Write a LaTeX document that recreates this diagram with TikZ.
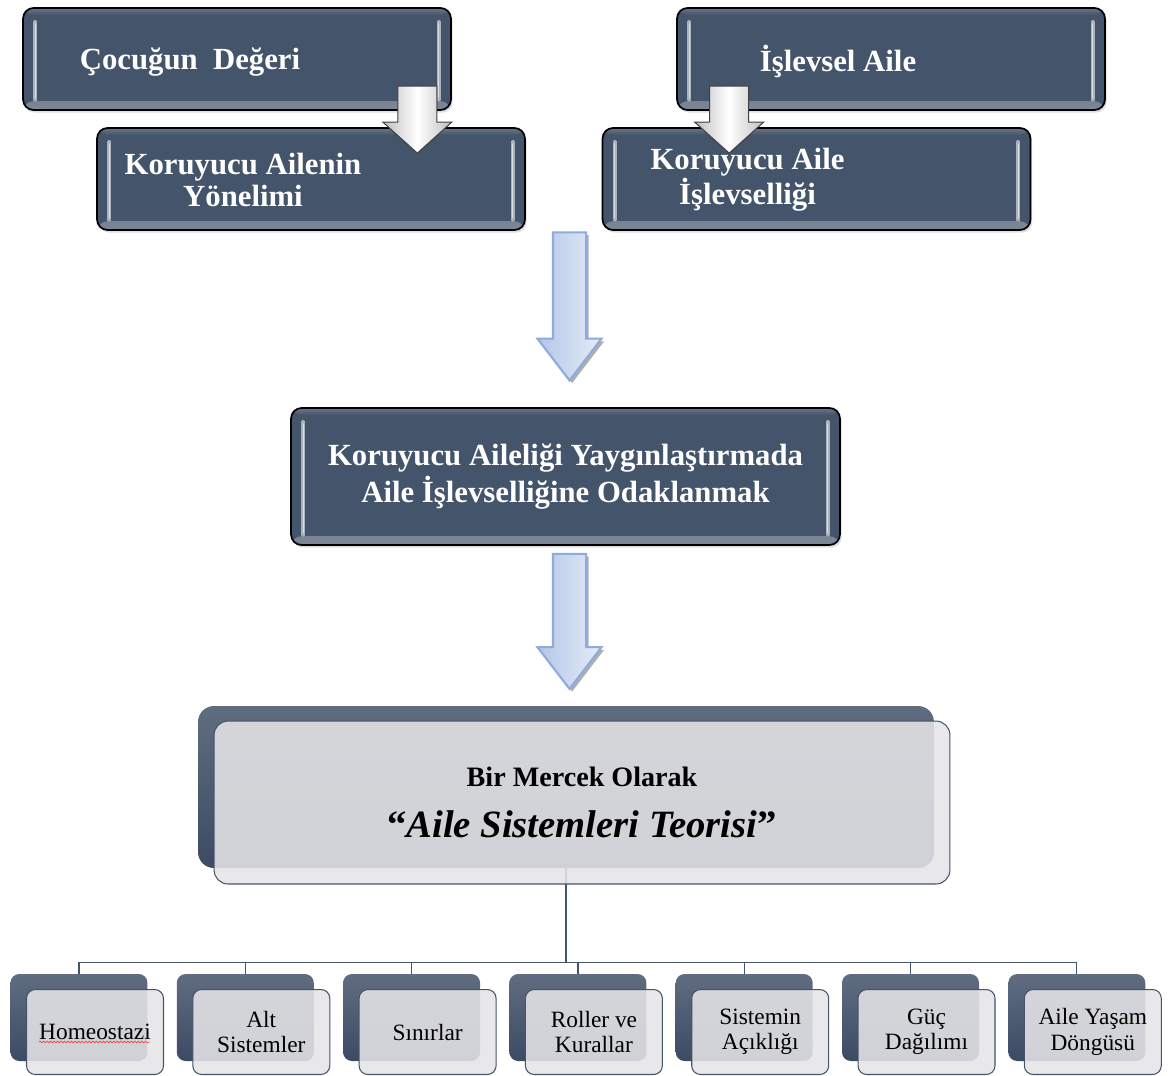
\documentclass[tikz,border=0pt]{standalone}
\usepackage{fontspec}
\setmainfont{Liberation Serif}
\usetikzlibrary{positioning,calc,shapes.arrows,shadows,decorations.pathmorphing}

\definecolor{slate}{HTML}{44546A}
\definecolor{slatetop}{HTML}{606D80}
\definecolor{slatebot}{HTML}{3C4B64}
\definecolor{paper}{HTML}{E5E5E7}
\definecolor{arrowfill}{HTML}{B4C7E7}
\definecolor{arrowline}{HTML}{8FAADC}

\tikzset{
  darkbox/.style={draw=black, line width=1pt, rounded corners=6pt, fill=slate,
    minimum width=8.56cm, minimum height=2.04cm,
    drop shadow={opacity=0.25, shadow xshift=1pt, shadow yshift=-1.5pt},
    path picture={
      \fill[top color=slate, bottom color=slate!70!white]
        ([yshift=5pt]path picture bounding box.south west) rectangle (path picture bounding box.south east);
      \fill[bottom color=slate, top color=slate!80!white]
        ([yshift=-4pt]path picture bounding box.north west) rectangle (path picture bounding box.north east);
      \foreach \s/\a in {west/1,east/-1} {
        \draw[line width=2.4pt, line cap=round, slate!45!white]
          ([xshift=\a*7pt,yshift=-8pt]path picture bounding box.north \s) -- ([xshift=\a*7pt,yshift=6pt]path picture bounding box.south \s);
        \draw[line width=0.7pt, line cap=round, white!80!slate]
          ([xshift=\a*7pt,yshift=-9pt]path picture bounding box.north \s) -- ([xshift=\a*7pt,yshift=7pt]path picture bounding box.south \s);
      }
    }},
  boxtext/.style={text=white, font=\fontsize{17.5}{18.5}\selectfont\bfseries, align=center, inner sep=0pt},
  backbox/.style={rounded corners=5pt, top color=slatetop, bottom color=slatebot,
    minimum width=2.74cm, minimum height=1.74cm, inner sep=0pt},
  frontbox/.style={draw=slate, line width=0.6pt, rounded corners=5pt, fill=paper, fill opacity=0.88,
    text opacity=1, minimum width=2.74cm, minimum height=1.7cm, align=center, inner sep=0pt,
    font=\fontsize{13.3}{14.5}\selectfont},
  tree/.style={draw=slate, line width=0.7pt},
  bigarrow/.style={single arrow, shape border rotate=270, draw=arrowline, line width=1.2pt,
    left color=arrowfill, right color=arrowfill!35!white, inner sep=0.31cm,
    minimum width=1.26cm, single arrow head extend=0.31cm, single arrow tip angle=75,
    drop shadow={shadow xshift=1.5pt, shadow yshift=-1.5pt, fill=black!45, opacity=0.7}},
  grayarrow/.style={single arrow, shape border rotate=270, draw=black!75, line width=0.6pt,
    left color=gray!50, right color=gray!50, middle color=white, inner sep=0.38cm,
    minimum width=1.38cm, minimum height=1.34cm, single arrow head extend=0.3cm, single arrow tip angle=96}
}

\begin{document}
\begin{tikzpicture}[x=0.02cm, y=-0.02cm]
\useasboundingbox (0,0) rectangle (1168,1075);

% upper boxes
\node[darkbox] (A) at (237,59) {};
\node[darkbox] (B) at (311,179) {};
\node[darkbox] (C) at (891,59) {};
\node[darkbox] (D) at (816.5,179) {};
\node[boxtext] (Atext) at ($(A.center)+(-47,3)$) {Çocuğun\ \ Değeri};
\node[boxtext] (Btext) at ($(B.center)+(-68,1)$) {Koruyucu Ailenin\\Yönelimi};
\node[boxtext] (Ctext) at ($(C.center)+(-53,2)$) {İşlevsel Aile};
\node[boxtext] (Dtext) at ($(D.center)+(-69,1)$) {Koruyucu Aile\\İşlevselliği};

% small arrows
\node[grayarrow, anchor=tip] (AB) at ($(A.south east)+(-34.5,43)$) {};
\node[grayarrow, anchor=tip] (CD) at ($(C.south west)+(53,43)$) {};

% middle box
\node[darkbox, boxtext, minimum width=10.98cm, minimum height=2.74cm] (M) at (565.5,476.5)
  {Koruyucu Aileliği Yaygınlaştırmada\\[1.5pt]Aile İşlevselliğine Odaklanmak};

% big arrows
\node[bigarrow, minimum height=2.96cm, anchor=tip] (toM) at ($(M.north)+(4,-25)$) {};
\node[bigarrow, minimum height=2.7cm, anchor=tail] (fromM) at ($(M.south)+(4,7)$) {};

% lens box
\node[backbox, rounded corners=9pt, minimum width=14.72cm, minimum height=3.24cm] (lensback) at (566,787) {};
\coordinate (hub) at ($(lensback.south)+(0,94)$);
\draw[tree] (lensback.south) -- (hub);
\node[frontbox, rounded corners=8pt, minimum width=14.72cm, minimum height=3.26cm,
  font=\fontsize{22}{26}\selectfont\bfseries] (lens) at ($(lensback.center)+(16,15.5)$)
  {{\fontsize{16}{19}\selectfont Bir Mercek Olarak}\\[3pt]“\textit{Aile Sistemleri Teorisi}”};

% concepts
\foreach \t [count=\i from 0] in {Homeostazi,Alt\\Sistemler,Sınırlar,Roller ve\\Kurallar,Sistemin\\Açıklığı,Güç\\Dağılımı,Aile Yaşam\\Döngüsü} {
  \node[backbox] (sb\i) at ({79+166.3*\i},1017.5) {};
  \draw[tree] (hub) -| (sb\i.north);
  \node[frontbox] (sf\i) at ($(sb\i.center)+(16,14.5)$) {\t};
}
\draw[red!85, line width=0.3pt, decorate, decoration={snake, amplitude=0.5pt, segment length=2pt}]
  ($(sf0.center)+(-56,10)$) -- ($(sf0.center)+(55,10)$);
\end{tikzpicture}
\end{document}
